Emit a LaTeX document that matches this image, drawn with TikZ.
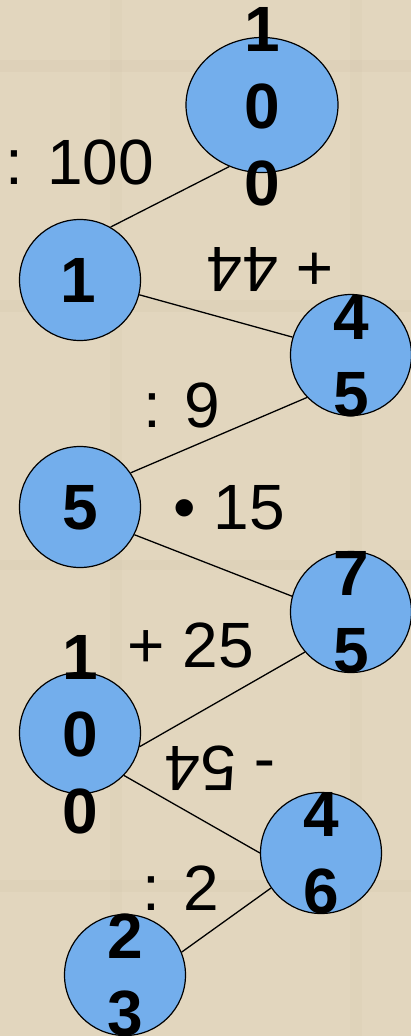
\documentclass[tikz,border=0pt]{standalone}
\usepackage{fontspec}
\setmainfont{Liberation Sans}
\usetikzlibrary{shapes.geometric}
\definecolor{bg}{RGB}{226,214,190}
\definecolor{bgdark}{RGB}{205,190,163}
\definecolor{ballfill}{RGB}{115,174,236}
\tikzset{
  ball/.style={circle, draw=black, line width=1.2pt, fill=ballfill, minimum size=121pt, inner sep=0pt},
  digits/.style={font=\fontsize{64}{77}\selectfont\bfseries, align=center, inner sep=0pt, text=black},
  oplabel/.style={font=\fontsize{64}{77}\selectfont, inner sep=0pt, text=black},
  link/.style={draw=black, line width=1.3pt}
}
\begin{document}
\begin{tikzpicture}[x=1pt,y=-1pt]
\useasboundingbox (0,0) rectangle (411,1036);
\fill[bg] (0,0) rectangle (411,1036);
% faint parchment streaks
\fill[bgdark,opacity=0.18] (0,60) rectangle (411,72);
\fill[bgdark,opacity=0.15] (0,300) rectangle (411,312);
\fill[bgdark,opacity=0.15] (0,560) rectangle (411,570);
\fill[bgdark,opacity=0.15] (0,880) rectangle (411,892);
\fill[bgdark,opacity=0.12] (110,0) rectangle (122,1036);
\fill[bgdark,opacity=0.12] (350,0) rectangle (362,1036);

% circles
\node[ellipse, draw=black, line width=1.2pt, fill=ballfill, minimum width=152pt, minimum height=135pt, inner sep=0pt] (a) at (262,105) {};
\node[ball] (b) at (80,280) {};
\node[ball] (c) at (351,355) {};
\node[ball] (d) at (80,507) {};
\node[ball] (e) at (351,612) {};
\node[ball] (f) at (80,733) {};
\node[ball] (g) at (321,853) {};
\node[ball] (h) at (125,975) {};

% connectors
\draw[link] (b.60) -- (a.242);
\draw[link] (b.-14) -- (c.163);
\draw[link] (c.224) -- (d.34);
\draw[link] (d.-27) -- (e.165);
\draw[link] (e.221) -- (f.-13);
\draw[link] (f.-44) -- (g.180);
\draw[link] (g.215) -- (h.22);

% digits
\node[digits] (ta) at (262,107) {1\\0\\0};
\node[digits] (tb) at (78,280) {1};
\node[digits] (tc) at (351,356) {4\\5};
\node[digits] (td) at (80,508) {5};
\node[digits] (te) at (351,612) {7\\5};
\node[digits] (tf) at (80,735) {1\\0\\0};
\node[digits] (tg) at (321,853) {4\\6};
\node[digits] (th) at (125,975) {2\\3};

% operation labels
\node[oplabel] (l1) at (80,162) {: 100};
\node[oplabel, rotate=180] (l2) at (270,270) {+ 44};
\node[oplabel] (l3) at (182,405) {: 9};
\node[oplabel] (l4) at (229,508) {• 15};
\node[oplabel] (l5) at (191,645) {+ 25};
\node[oplabel, rotate=180] (l6) at (220,768) {- 54};
\node[oplabel] (l7) at (181,888) {: 2};
\end{tikzpicture}
\end{document}
